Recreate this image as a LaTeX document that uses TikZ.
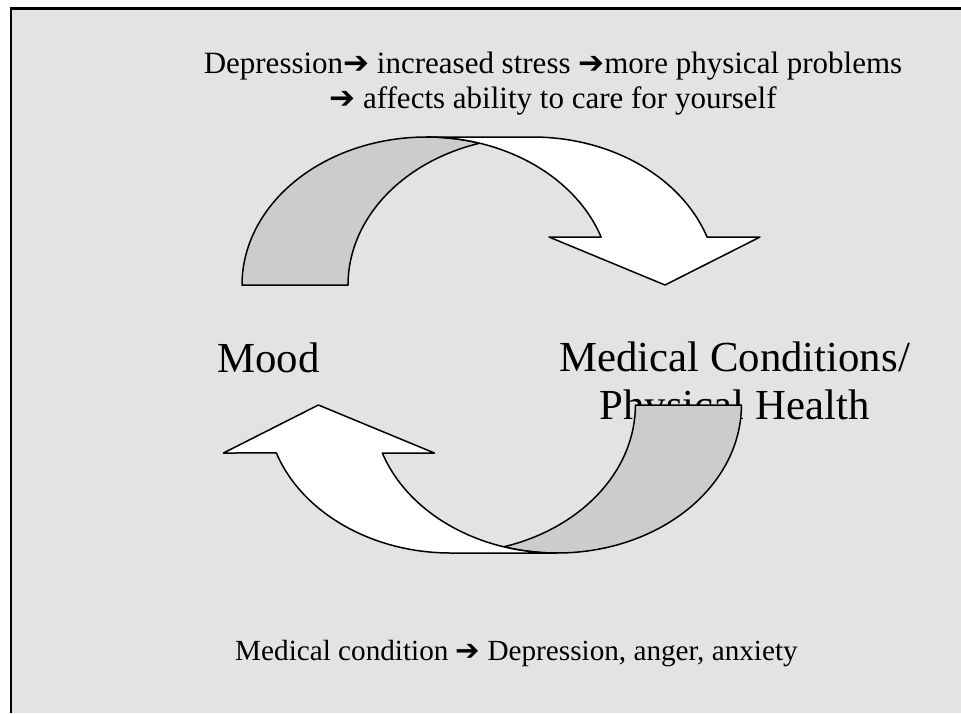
\documentclass[tikz,border=0pt]{standalone}
\usepackage{fontspec}
\setmainfont{Liberation Serif}
\newfontfamily\arrowfont{DejaVu Sans}
\newcommand{\thickarrow}{{\arrowfont ➔}}
\definecolor{slidegray}{RGB}{227,227,227}
\definecolor{bandgray}{RGB}{204,204,204}
\tikzset{
    slidetext/.style={font=\fontsize{15.5}{17.5}\selectfont, align=center, inner sep=0pt, anchor=base},
    bigtext/.style={font=\fontsize{21.4}{23.65}\selectfont, align=center, inner sep=0pt, anchor=base},
    band/.style={draw=black, line width=0.75pt, line join=round}
}

\begin{document}
\begin{tikzpicture}[x=0.5pt, y=-0.5pt]
        \useasboundingbox (0, 0) rectangle (961, 713);
        \fill[white] (0, 0) rectangle (961, 713);

        \coordinate (TL) at (11, 8.5);
        \coordinate (TR) at (961, 8.5);
        \coordinate (BL) at (11, 713);
        \coordinate (BR) at (961, 713);

        \fill[slidegray] (TL) rectangle (BR);
        \draw[line width=1.1pt] (TR) -- (TL) -- (BL);

        \node[slidetext] (worsening) at (553, 108) {Depression\thickarrow{} increased stress \thickarrow more physical problems\\\thickarrow{} affects ability to care for yourself};
        \node[bigtext] (mood) at (268.5, 372) {Mood};
        \node[bigtext] (health) at (734.5, 419) {Medical Conditions/\\Physical Health};
        \node[slidetext, font=\fontsize{14.6}{16.5}\selectfont] (reaction) at (516.5, 660) {Medical condition \thickarrow{} Depression, anger, anxiety};

        \foreach \turn in {0, 180} {
            \begin{scope}[rotate around={\turn:(491.7, 345)}]
                \coordinate (footA) at (242, 285);
                \coordinate (footB) at (348, 285);
                \coordinate (topA) at (426.5, 137);
                \coordinate (topB) at (532.5, 137);
                \coordinate (shaftL) at (601.1, 237);
                \coordinate (headL) at (549, 237);
                \coordinate (headR) at (760, 237);
                \coordinate (tip) at (665, 285);

                \filldraw[band, fill=bandgray] (footA)
                    arc[start angle=180, end angle=286.7, x radius=184.5, y radius=148]
                    arc[start angle=253.3, end angle=180, x radius=184.5, y radius=148]
                    -- cycle;
                \filldraw[band, fill=white] (topA) -- (topB)
                    arc[start angle=270, end angle=341.1, x radius=184.5, y radius=148]
                    -- (headR) -- (tip) -- (headL) -- (shaftL)
                    arc[start angle=341.1, end angle=270, x radius=184.5, y radius=148]
                    -- cycle;
            \end{scope}
        }

    \end{tikzpicture}
\end{document}
